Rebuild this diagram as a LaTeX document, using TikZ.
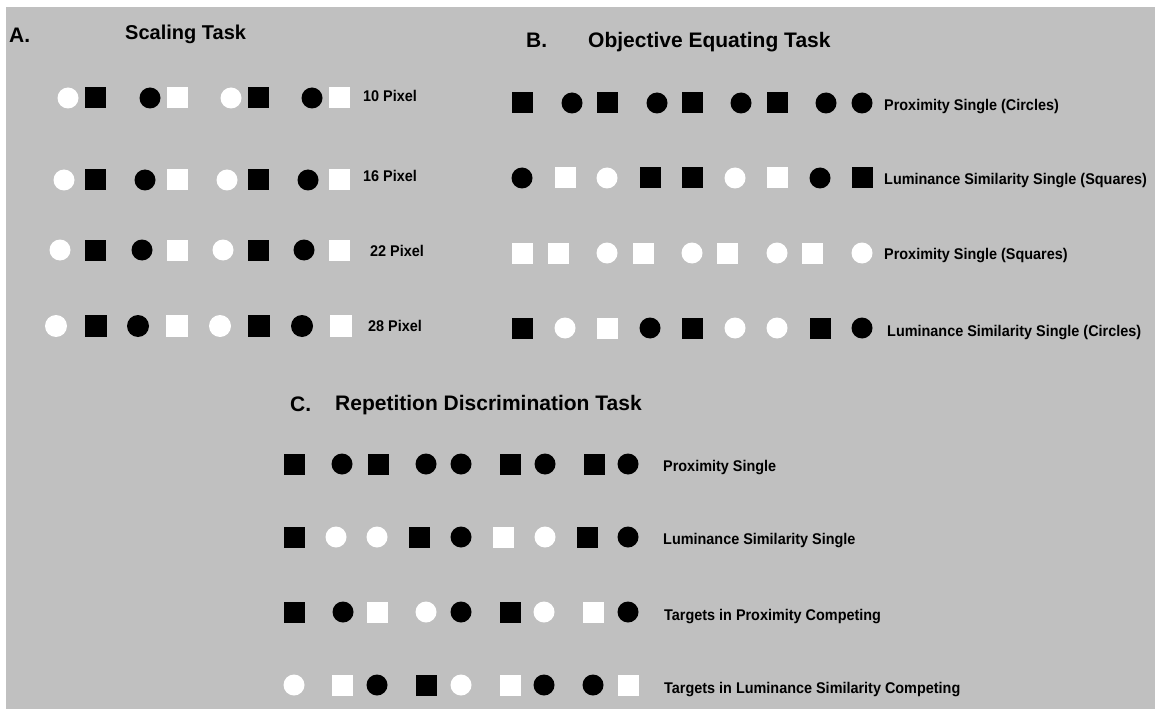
\documentclass[tikz,border=0pt]{standalone}
\usepackage{fontspec}
\setmainfont{Liberation Sans}
\newfontfamily\narrowsans[FakeStretch=0.93]{Liberation Sans}
\usepackage{tikz}
\definecolor{PGray}{HTML}{C0C0C0}

\begin{document}
\begin{tikzpicture}[
  x=1pt,y=-1pt,
  wc/.style={circle,fill=white,minimum size=21pt,inner sep=0pt},
  bc/.style={circle,fill=black,minimum size=21pt,inner sep=0pt},
  ws/.style={rectangle,fill=white,minimum size=21pt,inner sep=0pt},
  bs/.style={rectangle,fill=black,minimum size=21pt,inner sep=0pt},
  ttl/.style={anchor=base west,inner sep=0pt,font=\bfseries\fontsize{21}{25}\selectfont},
  lbl/.style={anchor=base west,inner sep=0pt,font=\narrowsans\bfseries\fontsize{15.5}{18}\selectfont}
]
  \useasboundingbox (0,0) rectangle (1155,711);
  \fill[white] (0,0) rectangle (1155,711);
  \fill[PGray] (6,7) rectangle (1155,709);

  % A. scaling task
  \node[ttl] (pa) at (9,43) {A.};
  \node[ttl,font=\bfseries\fontsize{20}{24}\selectfont] (scaling) at (125,40) {Scaling Task};
  \node[wc] (a11) at (68,98) {};  \node[bs] (a12) at (95,98) {};
  \node[bc] (a13) at (150,98) {}; \node[ws] (a14) at (177,98) {};
  \node[wc] (a15) at (231,98) {}; \node[bs] (a16) at (258,98) {};
  \node[bc] (a17) at (312,98) {}; \node[ws] (a18) at (339,98) {};
  \node[lbl] (a1l) at (363,101.5) {10 Pixel};
  \node[wc] (a21) at (64,180) {};  \node[bs] (a22) at (95,180) {};
  \node[bc] (a23) at (145,180) {}; \node[ws] (a24) at (177,180) {};
  \node[wc] (a25) at (227,180) {}; \node[bs] (a26) at (258,180) {};
  \node[bc] (a27) at (308,180) {}; \node[ws] (a28) at (339,180) {};
  \node[lbl] (a2l) at (363,181.5) {16 Pixel};
  \node[wc] (a31) at (60,250) {};  \node[bs] (a32) at (95,250) {};
  \node[bc] (a33) at (142,250) {}; \node[ws] (a34) at (177,250) {};
  \node[wc] (a35) at (223,250) {}; \node[bs] (a36) at (258,250) {};
  \node[bc] (a37) at (304,250) {}; \node[ws] (a38) at (339,250) {};
  \node[lbl] (a3l) at (370,256.5) {22 Pixel};
  \node[wc,minimum size=22pt] (a41) at (56,326) {};  \node[bs,minimum size=22pt] (a42) at (96,326) {};
  \node[bc,minimum size=22pt] (a43) at (138,326) {}; \node[ws,minimum size=22pt] (a44) at (177,326) {};
  \node[wc,minimum size=22pt] (a45) at (220,326) {}; \node[bs,minimum size=22pt] (a46) at (259,326) {};
  \node[bc,minimum size=22pt] (a47) at (302,326) {}; \node[ws,minimum size=22pt] (a48) at (341,326) {};
  \node[lbl] (a4l) at (368,331.5) {28 Pixel};

  % B. objective equating task
  \node[ttl] (pb) at (526,48) {B.};
  \node[ttl] (objective) at (588,48) {Objective Equating Task};
  \node[bs] (b11) at (522,103) {}; \node[bc] (b12) at (572,103) {}; \node[bs] (b13) at (607,103) {};
  \node[bc] (b14) at (657,103) {}; \node[bs] (b15) at (692,103) {}; \node[bc] (b16) at (741,103) {};
  \node[bs] (b17) at (777,103) {}; \node[bc] (b18) at (826,103) {}; \node[bc] (b19) at (862,103) {};
  \node[lbl] (b1l) at (884,111) {Proximity Single (Circles)};
  \node[bc] (b21) at (522,178) {}; \node[ws] (b22) at (565,178) {}; \node[wc] (b23) at (607,178) {};
  \node[bs] (b24) at (650,178) {}; \node[bs] (b25) at (692,178) {}; \node[wc] (b26) at (735,178) {};
  \node[ws] (b27) at (777,178) {}; \node[bc] (b28) at (820,178) {}; \node[bs] (b29) at (862,178) {};
  \node[lbl] (b2l) at (884,185) {Luminance Similarity Single (Squares)};
  \node[ws] (b31) at (522,253) {}; \node[ws] (b32) at (558,253) {}; \node[wc] (b33) at (607,253) {};
  \node[ws] (b34) at (643,253) {}; \node[wc] (b35) at (692,253) {}; \node[ws] (b36) at (727,253) {};
  \node[wc] (b37) at (777,253) {}; \node[ws] (b38) at (812,253) {}; \node[wc] (b39) at (862,253) {};
  \node[lbl] (b3l) at (884,259) {Proximity Single (Squares)};
  \node[bs] (b41) at (522,328) {}; \node[wc] (b42) at (565,328) {}; \node[ws] (b43) at (607,328) {};
  \node[bc] (b44) at (650,328) {}; \node[bs] (b45) at (692,328) {}; \node[wc] (b46) at (735,328) {};
  \node[wc] (b47) at (777,328) {}; \node[bs] (b48) at (820,328) {}; \node[bc] (b49) at (862,328) {};
  \node[lbl] (b4l) at (887,336) {Luminance Similarity Single (Circles)};

  % C. repetition discrimination task
  \node[ttl] (pc) at (290,411) {C.};
  \node[ttl] (repetition) at (335,410) {Repetition Discrimination Task};
  \node[bs] (c11) at (294,464) {}; \node[bc] (c12) at (342,464) {}; \node[bs] (c13) at (378,464) {};
  \node[bc] (c14) at (426,464) {}; \node[bc] (c15) at (461,464) {}; \node[bs] (c16) at (510,464) {};
  \node[bc] (c17) at (545,464) {}; \node[bs] (c18) at (594,464) {}; \node[bc] (c19) at (628,464) {};
  \node[lbl] (c1l) at (663,471) {Proximity Single};
  \node[bs] (c21) at (294,537) {}; \node[wc] (c22) at (336,537) {}; \node[wc] (c23) at (377,537) {};
  \node[bs] (c24) at (419,537) {}; \node[bc] (c25) at (461,537) {}; \node[ws] (c26) at (503,537) {};
  \node[wc] (c27) at (545,537) {}; \node[bs] (c28) at (587,537) {}; \node[bc] (c29) at (628,537) {};
  \node[lbl] (c2l) at (663,544) {Luminance Similarity Single};
  \node[bs] (c31) at (294,612) {}; \node[bc] (c32) at (343,612) {}; \node[ws] (c33) at (377,612) {};
  \node[wc] (c34) at (426,612) {}; \node[bc] (c35) at (461,612) {}; \node[bs] (c36) at (510,612) {};
  \node[wc] (c37) at (544,612) {}; \node[ws] (c38) at (593,612) {}; \node[bc] (c39) at (628,612) {};
  \node[lbl] (c3l) at (664,620) {Targets in Proximity Competing};
  \node[wc] (c41) at (294,685) {}; \node[ws] (c42) at (342,685) {}; \node[bc] (c43) at (377,685) {};
  \node[bs] (c44) at (426,685) {}; \node[wc] (c45) at (461,685) {}; \node[ws] (c46) at (510,685) {};
  \node[bc] (c47) at (544,685) {}; \node[bc] (c48) at (593,685) {}; \node[ws] (c49) at (628,685) {};
  \node[lbl] (c4l) at (664,693) {Targets in Luminance Similarity Competing};
\end{tikzpicture}
\end{document}
